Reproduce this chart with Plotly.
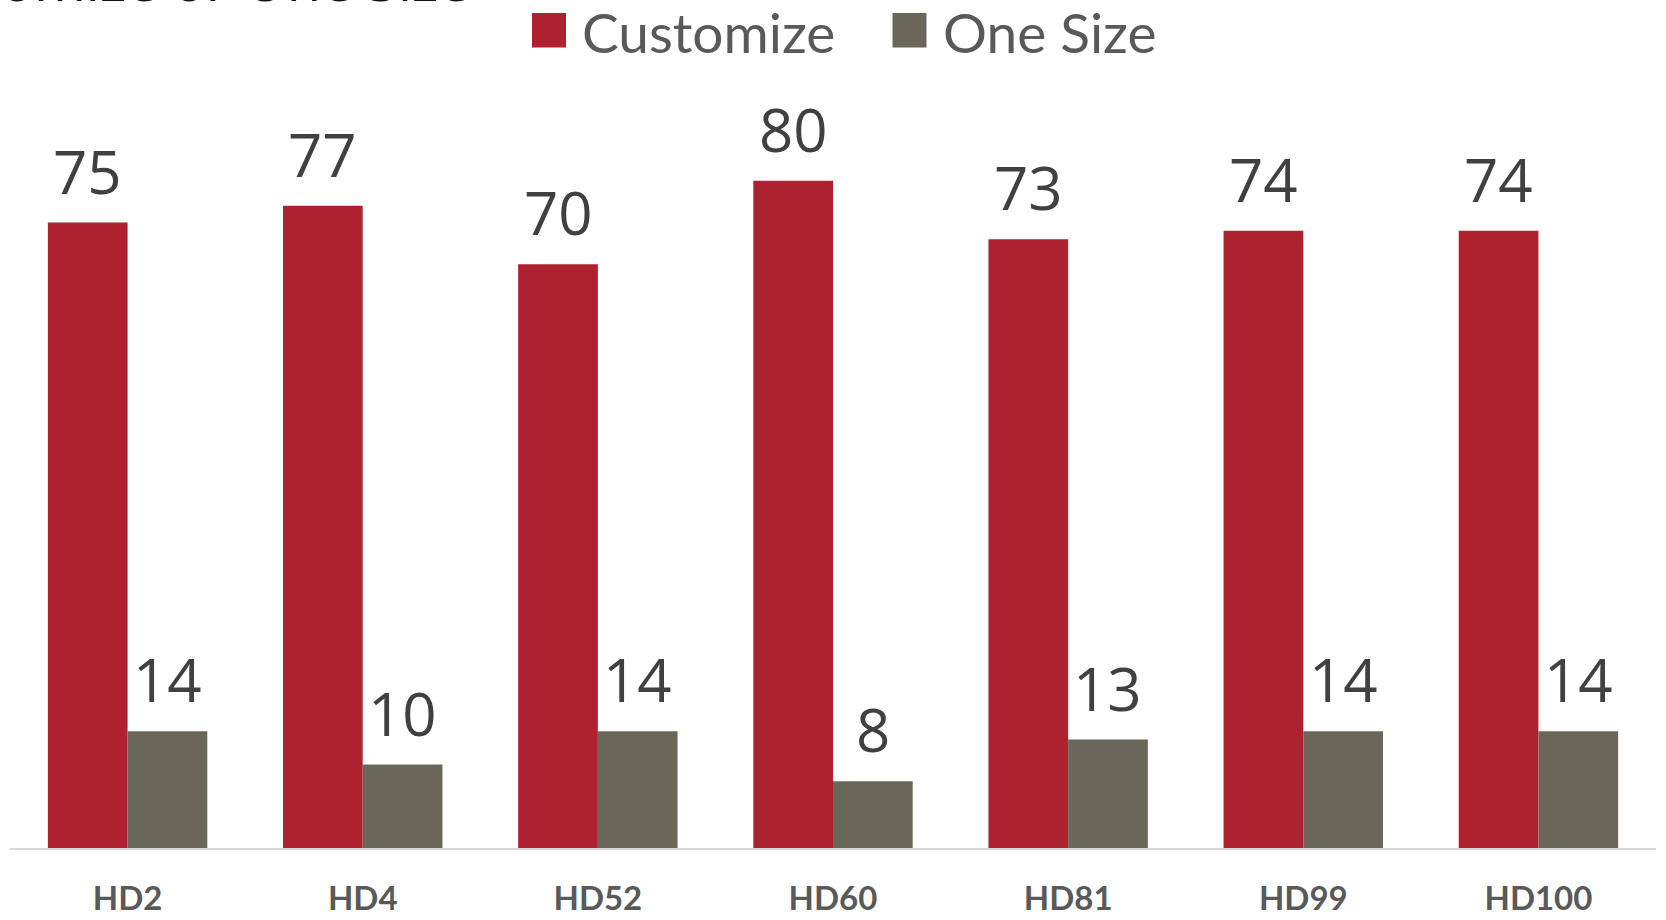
import plotly.graph_objects as go

# ---- data ----
categories = ["HD2", "HD4", "HD52", "HD60", "HD81", "HD99", "HD100"]
customize = [75, 77, 70, 80, 73, 74, 74]
one_size = [14, 10, 14, 8, 13, 14, 14]
series_names = ["Customize", "One Size"]
series_colors = ["#AE2230", "#6A665A"]
title_text = "Customize or One Size"

W, H = 1666, 920
ML, MR, MT, MB = 10, 10, 14, 72
PW, PH = W - ML - MR, H - MT - MB
BARGAP = 0.322


def px_x(px):
    return (px - ML) / PW


def px_y(py):
    return (H - MB - py) / PH


series_values = [customize, one_size]

fig = go.Figure()
for name, vals, col in zip(series_names, series_values, series_colors):
    fig.add_trace(go.Bar(
        x=categories, y=vals, name=name,
        marker=dict(color=col, line=dict(width=0)),
        cliponaxis=False, showlegend=False,
    ))

annotations = []
# value labels above each bar (anchored to the data point, shifted to its bar in the group)
bar_w = PW / len(categories) * (1 - BARGAP) / len(series_values)
for i, vals in enumerate(series_values):
    off = (i - (len(series_values) - 1) / 2) * bar_w
    for c, v in zip(categories, vals):
        annotations.append(dict(
            text=str(v), x=c, y=v, xref="x", yref="y",
            xanchor="center", yanchor="bottom", xshift=off, yshift=10,
            showarrow=False, borderpad=0,
            font=dict(family="Open Sans", size=60, color="#404040")))

# manual legend (large square swatches like the original)
legend_items = [(series_names[0], series_colors[0], 532, 581),
                (series_names[1], series_colors[1], 892.5, 942)]
shapes = []
for name, col, sx, tx in legend_items:
    shapes.append(dict(type="rect", xref="paper", yref="paper",
                       x0=px_x(sx), x1=px_x(sx + 34), y0=px_y(47.5), y1=px_y(13),
                       fillcolor=col, line=dict(width=0), layer="above"))
    annotations.append(dict(text=name, xref="paper", yref="paper",
                            x=px_x(tx), y=px_y(32), xanchor="left", yanchor="middle",
                            showarrow=False, borderpad=0,
                            font=dict(family="Lato", size=55, color="#595959")))

# clipped slide title at the very top
annotations.append(dict(text=title_text, xref="paper", yref="paper",
                        x=px_x(472), y=px_y(19.5), xanchor="right", yanchor="bottom",
                        showarrow=False,
                        font=dict(family="Open Sans", size=56, color="#111111")))

fig.update_layout(
    width=W, height=H,
    margin=dict(l=ML, r=MR, t=MT, b=MB),
    paper_bgcolor="white", plot_bgcolor="white",
    barmode="group", bargap=BARGAP, bargroupgap=0,
    showlegend=False,
    shapes=shapes, annotations=annotations,
    xaxis=dict(
        type="category", range=[-0.5, len(categories) - 0.5],
        automargin=False,
        showline=True, linecolor="#D9D9D9", linewidth=2,
        ticks="outside", ticklen=20, tickcolor="rgba(0,0,0,0)",
        tickfont=dict(family="Lato", size=33, color="#595959", weight=700),
        showgrid=False, zeroline=False,
    ),
    yaxis=dict(range=[0, 100], visible=False, showgrid=False, zeroline=False,
               automargin=False),
    font=dict(family="Open Sans"),
)

fig.write_html("out.html", config={"displayModeBar": False},
               post_script="document.body.style.margin='0';document.body.style.overflow='hidden';")
